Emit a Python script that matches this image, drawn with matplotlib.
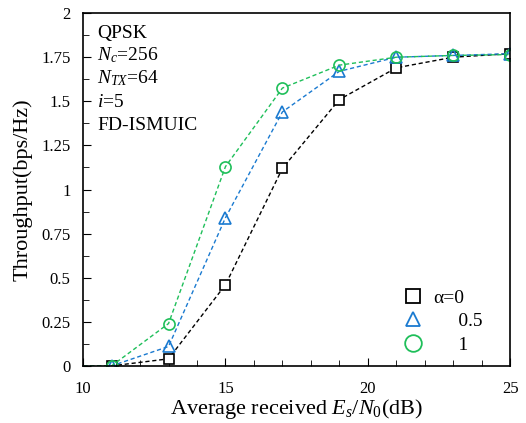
import numpy as np
import matplotlib
matplotlib.use("Agg")
import matplotlib.pyplot as plt
from matplotlib.lines import Line2D

plt.rcParams['font.family'] = ['Liberation Serif', 'DejaVu Serif']
plt.rcParams['mathtext.fontset'] = 'custom'
plt.rcParams['mathtext.rm'] = 'Liberation Serif'
plt.rcParams['mathtext.it'] = 'Liberation Serif:italic'

snr = [10, 11, 13, 15, 17, 19, 21, 23, 25]
thr_a0 = [0, 0, 0.04, 0.46, 1.12, 1.51, 1.69, 1.75, 1.77]
thr_a05 = [0, 0, 0.11, 0.84, 1.44, 1.67, 1.75, 1.76, 1.77]
thr_a1 = [0, 0, 0.24, 1.13, 1.575, 1.705, 1.75, 1.76, 1.765]

xticks = [10, 15, 20, 25]
yticks = [0, 0.25, 0.5, 0.75, 1, 1.25, 1.5, 1.75, 2]
ylabels = ['0', '0.25', '0.5', '0.75', '1', '1.25', '1.5', '1.75', '2']

fig = plt.figure(figsize=(5.26, 4.23), dpi=100)
ax = fig.add_axes([0.158, 0.135, 0.812, 0.834])

ax.plot(snr, thr_a0, color='black', ls=(0, (3, 2)), lw=1, marker='s', ms=7,
        mfc='white', mec='black', mew=1.2, markevery=list(range(1, 9)))
ax.plot(snr, thr_a05, color='#1a7ad0', ls=(0, (3, 2)), lw=1, marker='^', ms=8,
        mfc='none', mec='#1a7ad0', mew=1.2, markevery=list(range(1, 9)))
ax.plot(snr, thr_a1, color='#1fbf5a', ls=(0, (3, 2)), lw=1, marker='o', ms=8,
        mfc='none', mec='#1fbf5a', mew=1.2, markevery=list(range(1, 9)))

ax.set_xlim(10, 25)
ax.set_ylim(0, 2)
ax.set_xticks(xticks)
ax.set_xticks(np.arange(10, 26, 1), minor=True)
ax.set_yticks(yticks)
ax.set_yticklabels(ylabels)
ax.set_yticks(np.arange(0, 2.01, 0.125), minor=True)
ax.tick_params(axis='both', which='both', direction='in', labelsize=12)
ax.tick_params(axis='x', which='major', length=6, pad=11)
ax.tick_params(axis='x', which='minor', length=4)
ax.tick_params(axis='y', which='major', length=6, pad=9)
ax.tick_params(axis='y', which='minor', length=4)
for s in ax.spines.values():
    s.set_linewidth(1.2)

ax.set_xlabel(r'Average received $E_s/N_0$(dB)', fontsize=16, labelpad=0)
ax.set_ylabel('Throughput(bps/Hz)', fontsize=16, labelpad=6)

info = ['QPSK', r'$N_c$=256', r'$N_{TX}$=64', r'$i$=5', 'FD-ISMUIC']
for k, t in enumerate(info):
    ax.text(0.033, 0.93 - k * 0.065, t, transform=ax.transAxes, fontsize=14,
            va='baseline')

handles = [
    Line2D([], [], ls='none', marker='s', ms=10, mfc='none', mec='black', mew=1.3),
    Line2D([], [], ls='none', marker='^', ms=10, mfc='none', mec='#1a7ad0', mew=1.3),
    Line2D([], [], ls='none', marker='o', ms=12, mfc='none', mec='#1fbf5a', mew=1.3),
]
ax.legend(handles, ['α=0', '     0.5', '     1'], loc='lower right',
          bbox_to_anchor=(0.975, -0.015), frameon=False, fontsize=14,
          handletextpad=0.3, labelspacing=0.3, handlelength=1.5)

fig.savefig('out.png', dpi=100)
